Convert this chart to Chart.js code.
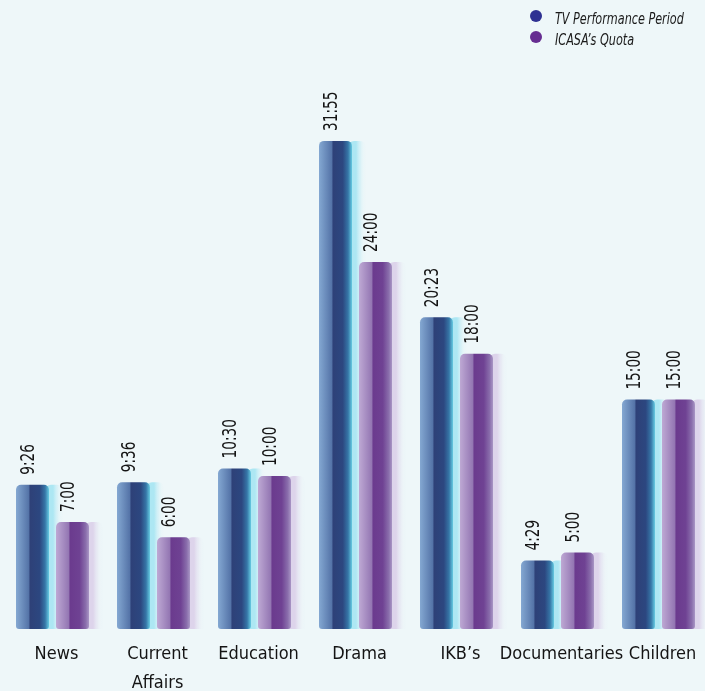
<!DOCTYPE html>
<html>
<head>
<meta charset="utf-8">
<title>Local content hours</title>
<script src="https://cdn.jsdelivr.net/npm/chart.js@4.4.1/dist/chart.umd.min.js"></script>
<style>
  html, body { margin: 0; padding: 0; background: #eef7f9; }
  #wrap { position: relative; width: 705px; height: 691px; overflow: hidden; background: #eef7f9; }
  #hoursChart { position: absolute; left: 0; top: 0; }
  #legend {
    position: absolute; left: 530px; top: 8px;
    font-family: "DejaVu Sans Condensed", "Liberation Sans Narrow", sans-serif;
    font-style: italic; font-size: 16px; color: #1a1a1a;
  }
  #legend .item { display: flex; align-items: center; height: 21px; white-space: nowrap; }
  #legend .dot { width: 12px; height: 12px; border-radius: 50%; margin-right: 13px; position: relative; top: -3px; }
  #legend .txt { display: inline-block; transform: scaleX(0.78); transform-origin: left center; }
</style>
</head>
<body>
<div id="wrap">
  <canvas id="hoursChart" width="712" height="691"></canvas>
  <div id="legend"></div>
</div>
<script>
/* categories and hours (h:mm) per genre */
const categories = ['News', ['Current', 'Affairs'], 'Education', 'Drama', 'IKB\u2019s', 'Documentaries', 'Children'];
const tvPerformance = ['9:26', '9:36', '10:30', '31:55', '20:23', '4:29', '15:00'];
const icasaQuota = ['7:00', '6:00', '10:00', '24:00', '18:00', '5:00', '15:00'];
const seriesNames = ['TV Performance Period', 'ICASA\u2019s Quota'];

const FONT = '"DejaVu Sans Condensed", "Liberation Sans Narrow", sans-serif';
const CATEGORY_PCT = 0.792;
const BAR_PCT = 0.825;

/* legend swatch colours + cylinder shading for each series */
const swatches = ['#2e3192', '#662d91'];
const barShades = [
  [[0, '#84a8d2'], [0.38, '#5574a8'], [0.43, '#2e4178'], [0.72, '#2c4780'], [0.88, '#3676a7'], [1, '#66cbe2']],
  [[0, '#bea9d4'], [0.38, '#9477b3'], [0.43, '#6b3b8e'], [0.72, '#6f4293'], [0.9, '#8a6eac'], [1, '#a996c5']]
];
const glowColors = ['#ade7f3', '#ddd4eb'];

/* "h:mm" -> decimal hours */
function toHours(s) {
  const [h, m] = s.split(':').map(Number);
  return h + m / 60;
}

function barFill(c) {
  const chart = c.chart;
  const xs = chart.scales.x;
  const shades = barShades[c.datasetIndex];
  if (!chart.chartArea || !xs || c.dataIndex === undefined) return shades[2][1];
  const cat = xs.width / categories.length;
  const chunk = cat * CATEGORY_PCT / 2;
  const thick = chunk * BAR_PCT;
  const cx = xs.getPixelForValue(c.dataIndex) - chunk / 2 + chunk * c.datasetIndex;
  const g = chart.ctx.createLinearGradient(cx - thick / 2, 0, cx + thick / 2, 0);
  shades.forEach(([o, col]) => g.addColorStop(o, col));
  return g;
}

/* soft light strip to the right of every bar */
const barGlow = {
  id: 'barGlow',
  beforeDatasetsDraw(chart) {
    const ctx = chart.ctx;
    chart.data.datasets.forEach((ds, di) => {
      chart.getDatasetMeta(di).data.forEach(bar => {
        const { x, y, base, width } = bar.getProps(['x', 'y', 'base', 'width'], true);
        const left = x + width / 2 - 4;
        const w = 18;
        const g = ctx.createLinearGradient(left, 0, left + w, 0);
        g.addColorStop(0, glowColors[di]);
        g.addColorStop(0.45, glowColors[di]);
        g.addColorStop(1, 'rgba(238,247,249,0)');
        ctx.save();
        ctx.fillStyle = g;
        ctx.beginPath();
        ctx.roundRect(left, y, w, base - y, [6, 6, 0, 0]);
        ctx.fill();
        ctx.restore();
      });
    });
  }
};

/* rotated h:mm labels above the bars, squeezed to a narrow face */
const valueLabels = {
  id: 'valueLabels',
  afterDatasetsDraw(chart) {
    const ctx = chart.ctx;
    const texts = [tvPerformance, icasaQuota];
    chart.data.datasets.forEach((ds, di) => {
      chart.getDatasetMeta(di).data.forEach((bar, i) => {
        const { x, y } = bar.getProps(['x', 'y'], true);
        ctx.save();
        ctx.translate(x - 3, y - 10);
        ctx.rotate(-Math.PI / 2);
        ctx.scale(0.8, 1);
        ctx.font = '19px ' + FONT;
        ctx.fillStyle = '#141414';
        ctx.textAlign = 'left';
        ctx.textBaseline = 'middle';
        ctx.fillText(texts[di][i], 0, 0);
        ctx.restore();
      });
    });
  }
};

/* html legend from the dataset list */
const htmlLegend = {
  id: 'htmlLegend',
  afterUpdate(chart) {
    const box = document.getElementById('legend');
    box.innerHTML = '';
    chart.data.datasets.forEach((ds, i) => {
      const item = document.createElement('div');
      item.className = 'item';
      const dot = document.createElement('span');
      dot.className = 'dot';
      dot.style.background = swatches[i];
      const label = document.createElement('span');
      label.className = 'txt';
      label.textContent = ds.label;
      item.appendChild(dot);
      item.appendChild(label);
      box.appendChild(item);
    });
  }
};

const barStyle = {
  backgroundColor: barFill,
  borderWidth: 0,
  borderSkipped: false,
  borderRadius: { topLeft: 5, topRight: 5, bottomLeft: 3, bottomRight: 3 },
  categoryPercentage: CATEGORY_PCT,
  barPercentage: BAR_PCT
};

const hoursChart = new Chart(document.getElementById('hoursChart'), {
  type: 'bar',
  data: {
    labels: categories,
    datasets: [
      { label: seriesNames[0], data: tvPerformance.map(toHours), ...barStyle },
      { label: seriesNames[1], data: icasaQuota.map(toHours), ...barStyle }
    ]
  },
  options: {
    responsive: false,
    animation: false,
    layout: { padding: { left: 2, right: 3, top: 2, bottom: 0 } },
    plugins: {
      colors: { enabled: false },
      legend: { display: false },
      tooltip: { enabled: false }
    },
    scales: {
      x: {
        grid: { display: false, drawTicks: false },
        border: { display: false },
        ticks: {
          color: '#141414',
          padding: 11,
          labelOffset: 4,
          maxRotation: 0,
          autoSkip: false,
          font: { family: FONT, size: 18, lineHeight: 1.6 }
        },
        afterFit(scale) { scale.height = 62; }
      },
      y: {
        display: false,
        min: 0,
        max: 41
      }
    }
  },
  plugins: [barGlow, valueLabels, htmlLegend]
});
</script>
</body>
</html>
